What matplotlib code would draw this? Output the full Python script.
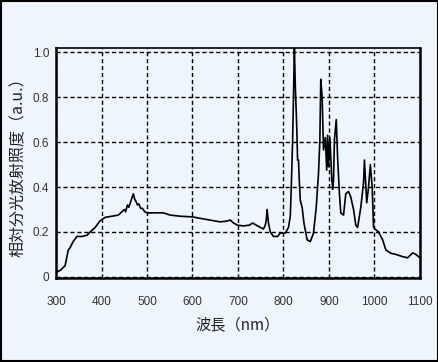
import matplotlib
matplotlib.use('Agg')
from matplotlib import pyplot as plt

wavelength = [300, 305, 310, 315, 320, 324, 327, 331, 337, 346, 357, 368, 375, 386,
              397, 408, 423, 437, 445, 450, 453, 457, 460, 465, 470, 473, 476, 479,
              482, 486, 490, 495, 500, 514, 536, 551, 573, 600, 624, 646, 661, 675,
              683, 690, 699, 712, 725, 732, 743, 756, 760, 762, 764, 767, 771, 778,
              787, 793, 804, 811, 815, 817, 820, 822, 824, 826, 829, 831, 833, 835,
              837, 841, 845, 852, 859, 866, 872, 877, 880, 882, 885, 888, 892, 895,
              897, 899, 902, 906, 908, 910, 912, 916, 919, 923, 926, 932, 937, 943,
              948, 954, 959, 963, 970, 976, 978, 983, 987, 991, 995, 998, 1003, 1009,
              1018, 1025, 1036, 1047, 1062, 1073, 1084, 1091, 1100]
intensity = [0.02, 0.025, 0.03, 0.04, 0.05, 0.09, 0.12, 0.13, 0.155, 0.18, 0.18, 0.185,
             0.20, 0.22, 0.25, 0.265, 0.27, 0.275, 0.29, 0.30, 0.29, 0.32, 0.31, 0.34,
             0.37, 0.345, 0.335, 0.32, 0.325, 0.305, 0.305, 0.29, 0.285, 0.285, 0.285,
             0.275, 0.27, 0.267, 0.258, 0.25, 0.245, 0.248, 0.253, 0.24, 0.23, 0.227,
             0.23, 0.24, 0.227, 0.213, 0.23, 0.25, 0.30, 0.24, 0.20, 0.18, 0.18, 0.195,
             0.195, 0.22, 0.27, 0.39, 0.60, 0.80, 1.02, 0.85, 0.68, 0.52, 0.52, 0.42,
             0.34, 0.31, 0.24, 0.165, 0.157, 0.195, 0.31, 0.46, 0.61, 0.88, 0.80, 0.565,
             0.62, 0.475, 0.63, 0.49, 0.62, 0.445, 0.39, 0.43, 0.61, 0.70, 0.53, 0.37,
             0.285, 0.275, 0.37, 0.38, 0.355, 0.30, 0.23, 0.22, 0.31, 0.42, 0.52, 0.33,
             0.40, 0.50, 0.40, 0.22, 0.21, 0.20, 0.165, 0.12, 0.105, 0.10, 0.09, 0.085,
             0.107, 0.10, 0.085]

xticks = [300, 400, 500, 600, 700, 800, 900, 1000, 1100]
yticks = [0, 0.2, 0.4, 0.6, 0.8, 1.0]
ytick_labels = ['0', '0.2', '0.4', '0.6', '0.8', '1.0']

bg = '#EEF5FC'
fig = plt.figure(figsize=(4.39, 3.62), dpi=100, facecolor=bg)
fig.patches.append(plt.Rectangle((0.002, 0.003), 0.995, 0.994, transform=fig.transFigure,
                                 fill=False, edgecolor='black', linewidth=1.5))
ax = fig.add_axes([0.1276, 0.232, 0.829, 0.635])
ax.set_facecolor(bg)

ax.plot(wavelength, intensity, color='black', linewidth=1.2)

ax.set_xlim(300, 1100)
ax.set_ylim(-0.005, 1.018)
ax.set_xticks(xticks)
ax.set_yticks(yticks)
ax.set_yticklabels(ytick_labels)
ax.tick_params(length=0, labelsize=8.5, labelcolor='#333333')
ax.tick_params(axis='x', pad=13)
ax.tick_params(axis='y', pad=5)
for lab in ax.get_xticklabels() + ax.get_yticklabels():
    lab.set_family(['Liberation Sans', 'DejaVu Sans'])

ax.grid(True, color='black', linestyle=(0, (3, 2)), linewidth=1.0)
for side in ['left', 'bottom', 'right']:
    ax.spines[side].set_linewidth(1.8)
ax.spines['top'].set_linewidth(1.2)

ax.set_xlabel('波長（nm）', family=['Noto Sans CJK JP', 'DejaVu Sans'], fontsize=11,
              color='#222222', labelpad=6)
ax.set_ylabel('相対分光放射照度（a.u.）', family=['Noto Sans CJK JP', 'DejaVu Sans'],
              fontsize=11.5, color='#222222', labelpad=4)

fig.savefig('out.png', dpi=100, facecolor=bg)
